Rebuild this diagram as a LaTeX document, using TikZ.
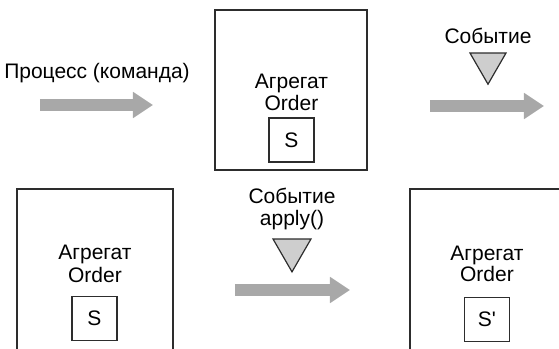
\documentclass[tikz,border=0pt]{standalone}
\usepackage{fontspec}
\setmainfont{Liberation Sans}
\usepackage{tikz}
\usetikzlibrary{shapes.geometric, arrows.meta, positioning}
\usepackage{xcolor}
\definecolor{flowgray}{RGB}{168,168,168}
\definecolor{eventgray}{RGB}{206,206,206}
\definecolor{inkline}{RGB}{45,45,45}

\begin{document}
\begin{tikzpicture}[x=0.5pt, y=-0.5pt,
    lbl/.style={font=\fontsize{10.5}{11}\selectfont, inner sep=0pt, anchor=base},
    aggbox/.style={draw=inkline, line width=0.7pt, inner sep=0pt},
    statebox/.style={draw=inkline, line width=0.7pt, inner sep=0pt,
                     minimum width=22.5pt, minimum height=22pt,
                     font=\fontsize{10.5}{11}\selectfont},
    eventmark/.style={regular polygon, regular polygon sides=3,
                      shape border rotate=180, draw=inkline, line width=0.6pt,
                      fill=eventgray, inner sep=0pt, outer sep=0pt, anchor=north},
    flow/.style={draw=flowgray, line width=6pt,
                 -{Triangle[length=10pt, width=12.5pt]}}]
  \useasboundingbox (0,0) rectangle (559,349);
  \clip (0,0) rectangle (559,349);

  % top row: command goes in, event comes out
  \node[lbl] (cmd) at (97,78) {Процесс (команда)};
  \coordinate (cmdS) at (40,105);
  \coordinate (cmdE) at (153,105);
  \draw[flow] (cmdS) -- (cmdE);

  \node[aggbox, minimum width=76pt, minimum height=80pt] (aggA) at (291,90) {};
  \node[lbl] (aggAname) at (291.5,88) {Агрегат};
  \node[lbl] (aggAtype) at (291.5,110) {Order};
  \node[statebox] (stA) at (291.5,140) {S};

  \node[lbl] (evA) at (488,43) {Событие};
  \node[eventmark, minimum size=20.8pt] (evAmark) at (488,53) {};
  \coordinate (evAS) at (430,106);
  \coordinate (evAE) at (544,106);
  \draw[flow] (evAS) -- (evAE);

  % bottom row: event applied to the aggregate
  \node[aggbox, minimum width=78pt, minimum height=105pt] (aggB) at (95,294) {};
  \node[lbl] (aggBname) at (95,259) {Агрегат};
  \node[lbl] (aggBtype) at (95,282) {Order};
  \node[statebox] (stB) at (94.5,318.5) {S};

  \node[lbl] (evB) at (292,203) {Событие};
  \node[lbl] (evBcall) at (292,225) {apply()};
  \node[eventmark, minimum size=21.9pt] (evBmark) at (292,239) {};
  \coordinate (evBS) at (235,290);
  \coordinate (evBE) at (350,290);
  \draw[flow] (evBS) -- (evBE);

  \node[aggbox, minimum width=77pt, minimum height=105pt] (aggC) at (487,294) {};
  \node[lbl] (aggCname) at (487,260) {Агрегат};
  \node[lbl] (aggCtype) at (487,281) {Order};
  \node[statebox] (stC) at (487,319.5) {S\textquotesingle};
\end{tikzpicture}
\end{document}
